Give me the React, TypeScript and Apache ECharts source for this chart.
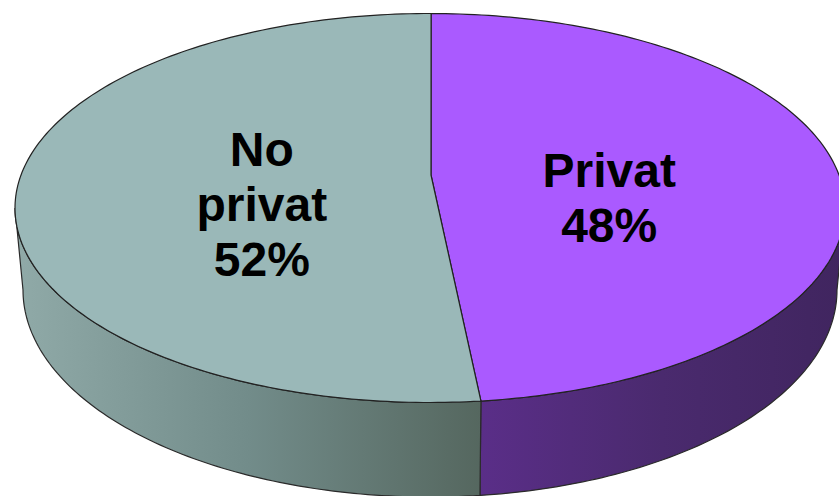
import React, { useEffect, useRef } from "react";
import * as echarts from "echarts";

const categories = ["Privat", "No\nprivat"];
const shares = [48, 52];
const topColors = ["#AA5AFF", "#9AB8B8"];
const wallStops = [
  ["#5A2E88", "#4A2A6E", "#40255F"],
  ["#90AAA8", "#728C8A", "#55675F"],
];

const TOP = { cx: 430, cy: 208, rx: 415, ry: 194.5 };
const BOTTOM = { cx: 430, cy: 290, rx: 407, ry: 207 };
const APEX = { x: 431, y: 175 };
const START_DEG = 0.15;
const total = shares.reduce((a, b) => a + b, 0);

const onEllipse = (e: typeof TOP, deg: number): number[] => {
  const t = (deg * Math.PI) / 180;
  return [e.cx + e.rx * Math.sin(t), e.cy - e.ry * Math.cos(t)];
};
const arc = (e: typeof TOP, from: number, to: number): number[][] => {
  const n = Math.max(2, Math.ceil(Math.abs(to - from)));
  const pts: number[][] = [];
  for (let i = 0; i <= n; i++) pts.push(onEllipse(e, from + ((to - from) * i) / n));
  return pts;
};

export default function App() {
  const ref = useRef<HTMLDivElement>(null);
  useEffect(() => {
    document.body.style.margin = "0";
    const chart = echarts.init(ref.current!, undefined, { renderer: "svg" });
    chart.setOption({
      animation: false,
      backgroundColor: "#ffffff",
      series: [
        {
          type: "custom",
          coordinateSystem: "none",
          silent: true,
          data: shares.map((v, i) => ({ name: categories[i], value: [v] })),
          renderItem: (params: any, api: any) => {
            const i = params.dataIndex;
            const value = api.value(0);
            const before = shares.slice(0, i).reduce((a, b) => a + b, 0);
            const a0 = START_DEG + (before / total) * 360;
            const a1 = a0 + (value / total) * 360;
            const wa = Math.max(a0, 90);
            const wb = Math.min(a1, 270);
            const stops = wallStops[i];
            const fill = new echarts.graphic.LinearGradient(0, 0, 1, 0, [
              { offset: 0, color: stops[0] },
              { offset: 0.5, color: stops[1] },
              { offset: 1, color: stops[2] },
            ]);
            const mid = (a0 + a1) / 2;
            const labelPos = onEllipse({ cx: 435.5, cy: 201, rx: 174, ry: 52 }, mid);
            return {
              type: "group",
              children: [
                {
                  type: "polygon",
                  shape: { points: [...arc(TOP, wa, wb), ...arc(BOTTOM, wb, wa)] },
                  style: { fill, stroke: "#2a2a2a", lineWidth: 1.2 },
                },
                {
                  type: "polygon",
                  shape: { points: [[APEX.x, APEX.y], ...arc(TOP, a0, a1)] },
                  style: { fill: topColors[i], stroke: "#222222", lineWidth: 1.2 },
                },
                {
                  type: "text",
                  style: {
                    text: `${categories[i]}\n${value}%`,
                    x: labelPos[0],
                    y: labelPos[1],
                    align: "center",
                    verticalAlign: "middle",
                    fontFamily: "Liberation Sans",
                    fontWeight: "bold",
                    fontSize: 48,
                    lineHeight: 55,
                    fill: "#000000",
                  },
                },
              ],
            };
          },
        },
      ],
    });
    return () => chart.dispose();
  }, []);
  return <div ref={ref} style={{ position: "fixed", left: 0, top: 0, width: 839, height: 496 }} />;
}
